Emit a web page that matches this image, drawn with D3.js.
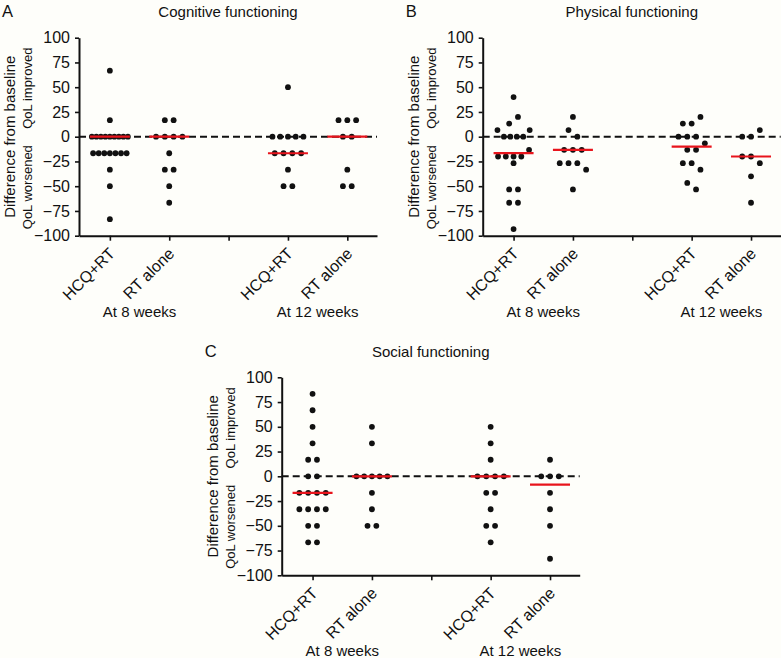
<!DOCTYPE html>
<html><head><meta charset="utf-8">
<script src="https://cdn.jsdelivr.net/npm/d3@7"></script>
<style>
body{margin:0;background:#fefefa;}
svg{display:block;font-family:"Liberation Sans",Arial,Helvetica,sans-serif;}
</style>
</head><body>
<svg id="chart" width="781" height="658"></svg>
<script>
// ---------- data ----------
const groupLabels = ["HCQ+RT", "RT alone", "HCQ+RT", "RT alone"];
const groupPositions = [1, 2, 4, 5];
const timepointLabels = ["At 8 weeks", "At 12 weeks"];
const timepointPositions = [1.5, 4.5];
const yTickValues = [100, 75, 50, 25, 0, -25, -50, -75, -100];
const panelTitles = ["Cognitive functioning", "Physical functioning", "Social functioning"];
const panelLetters = ["A", "B", "C"];

// Cognitive functioning (difference from baseline)
const cognitiveHcq8  = [66.7, 16.7, 0, 0, 0, 0, 0, 0, 0, 0, 0, -16.7, -16.7, -16.7, -16.7, -16.7, -16.7, -16.7, -33.3, -50, -83.3];
const cognitiveRt8   = [16.7, 16.7, 0, 0, 0, 0, -16.7, -33.3, -33.3, -50, -66.7];
const cognitiveHcq12 = [50, 0, 0, 0, 0, 0, -16.7, -16.7, -16.7, -16.7, -33.3, -50, -50];
const cognitiveRt12  = [16.7, 16.7, 16.7, 0, 0, -33.3, -50, -50];

// Physical functioning
const physicalHcq8  = [40, 20, 13.3, 6.7, 6.7, 0, 0, 0, 0, -13.3, -20, -20, -20, -20, -26.7, -53.3, -53.3, -66.7, -66.7, -93.3];
const physicalRt8   = [20, 6.7, 0, -13.3, -13.3, -13.3, -26.7, -26.7, -26.7, -33.3, -53.3];
const physicalHcq12 = [20, 13.3, 13.3, 0, 0, 0, -6.7, -13.3, -13.3, -26.7, -26.7, -33.3, -46.7, -53.3];
const physicalRt12  = [6.7, 0, 0, -20, -20, -26.7, -40, -66.7];

// Social functioning
const socialHcq8  = [83.3, 66.7, 50, 33.3, 16.7, 16.7, 0, 0, -16.7, -16.7, -16.7, -16.7, -33.3, -33.3, -33.3, -33.3, -50, -50, -66.7, -66.7];
const socialRt8   = [50, 33.3, 0, 0, 0, 0, 0, -16.7, -33.3, -50, -50];
const socialHcq12 = [50, 33.3, 16.7, 0, 0, 0, 0, -16.7, -16.7, -33.3, -50, -50, -66.7];
const socialRt12  = [16.7, 0, 0, 0, -16.7, -33.3, -50, -83.3];

const panelSeries = [
  [cognitiveHcq8, cognitiveRt8, cognitiveHcq12, cognitiveRt12],
  [physicalHcq8, physicalRt8, physicalHcq12, physicalRt12],
  [socialHcq8, socialRt8, socialHcq12, socialRt12]
];

// ---------- layout ----------
const panelOffsets = [[0, 0], [403.7, 0], [202.7, 339.6]];
const axisLeftX = 79, axisRightX = 377, yTopPx = 37.7, yBottomPx = 235.7;
const dotRadius = 2.9;
const medianHalfWidth = 20;
const red = "#e8141c";
const ink = "#111";

const x = d3.scaleLinear().domain([0.48, 5.5]).range([axisLeftX, axisRightX]);
const y = d3.scaleLinear().domain([-100, 100]).range([yBottomPx, yTopPx]);

// simple binned dot-plot layout (points of similar value spread horizontally)
function swarm(values) {
  const sorted = values.slice().sort((a, b) => b - a);
  const bins = [];
  sorted.forEach(v => {
    const b = bins[bins.length - 1];
    if (b && b[0] - v < 10) b.push(v); else bins.push([v]);
  });
  const out = [];
  bins.forEach(b => {
    const n = b.length;
    const span = n <= 1 ? 0 : (n <= 4 ? 8.8 * (n - 1) : 31 + (n - 5) * 1.25);
    const slots = d3.range(n).map(i => n > 1 ? -span / 2 + i * span / (n - 1) : 0);
    slots.sort((p, q) => (Math.abs(p) - Math.abs(q)) || (p - q));
    const med = d3.median(b);
    const ordered = b.slice().sort((p, q) => Math.abs(p - med) - Math.abs(q - med));
    ordered.forEach((v, i) => out.push({ v, dx: slots[i] }));
  });
  return out;
}

const svg = d3.select("#chart");

panelSeries.forEach((series, pi) => {
  const g = svg.append("g").attr("transform", `translate(${panelOffsets[pi][0]},${panelOffsets[pi][1]})`);

  // letter + title
  g.append("text").attr("x", 2).attr("y", 17).attr("font-size", 16.5).attr("fill", ink).text(panelLetters[pi]);
  g.append("text").attr("x", 228).attr("y", 17).attr("text-anchor", "middle").attr("font-size", 15).attr("fill", ink).text(panelTitles[pi]);

  // y axis
  const yAxis = g.append("g").attr("transform", `translate(${axisLeftX},0)`)
    .call(d3.axisLeft(y).tickValues(yTickValues).tickSize(4).tickSizeOuter(0).tickPadding(5));
  yAxis.selectAll("text").attr("font-size", 16).attr("fill", ink).attr("font-family", "Liberation Sans, Arial, sans-serif");
  yAxis.selectAll("line").attr("stroke", ink).attr("stroke-width", 1.6);
  yAxis.select(".domain").attr("stroke", ink).attr("stroke-width", 2);

  // x axis
  const xAxis = g.append("g").attr("transform", `translate(0,${yBottomPx})`)
    .call(d3.axisBottom(x).tickValues([1, 2, 3, 4, 5]).tickSize(5).tickSizeOuter(0).tickFormat(""));
  xAxis.selectAll("line").attr("stroke", ink).attr("stroke-width", 1.6);
  xAxis.select(".domain").attr("stroke", ink).attr("stroke-width", 2);

  // category labels (rotated)
  g.selectAll(".cat").data(groupLabels).enter().append("text")
    .attr("class", "cat")
    .attr("transform", (d, i) => `translate(${x(groupPositions[i]) + 6},${yBottomPx + 19}) rotate(-45)`)
    .attr("text-anchor", "end").attr("font-size", 16).attr("fill", ink).text(d => d);

  // time point labels
  g.selectAll(".tp").data(timepointLabels).enter().append("text")
    .attr("class", "tp")
    .attr("x", (d, i) => x(timepointPositions[i])).attr("y", yBottomPx + 81)
    .attr("text-anchor", "middle").attr("font-size", 15).attr("fill", ink).text(d => d);

  // y axis titles
  g.append("text").attr("transform", `translate(15,${y(0)}) rotate(-90)`)
    .attr("text-anchor", "middle").attr("font-size", 15).attr("fill", ink).text("Difference from baseline");
  g.append("text").attr("transform", `translate(32,${y(50) + 1}) rotate(-90)`)
    .attr("text-anchor", "middle").attr("font-size", 13).attr("fill", ink).text("QoL improved");
  g.append("text").attr("transform", `translate(32,${y(-50) + 1}) rotate(-90)`)
    .attr("text-anchor", "middle").attr("font-size", 13).attr("fill", ink).text("QoL worsened");

  // dashed zero line
  g.append("line").attr("x1", axisLeftX).attr("x2", axisRightX).attr("y1", y(0)).attr("y2", y(0))
    .attr("stroke", ink).attr("stroke-width", 2).attr("stroke-dasharray", "7,4");

  // dots
  series.forEach((vals, si) => {
    const pts = swarm(vals);
    g.append("g").selectAll("circle").data(pts).enter().append("circle")
      .attr("cx", d => x(groupPositions[si]) + d.dx)
      .attr("cy", d => y(d.v))
      .attr("r", dotRadius).attr("fill", ink);
  });

  // medians
  series.forEach((vals, si) => {
    const m = d3.median(vals);
    g.append("line")
      .attr("x1", x(groupPositions[si]) - medianHalfWidth).attr("x2", x(groupPositions[si]) + medianHalfWidth)
      .attr("y1", y(m)).attr("y2", y(m))
      .attr("stroke", red).attr("stroke-width", 2.2);
  });
});
</script>
</body></html>
